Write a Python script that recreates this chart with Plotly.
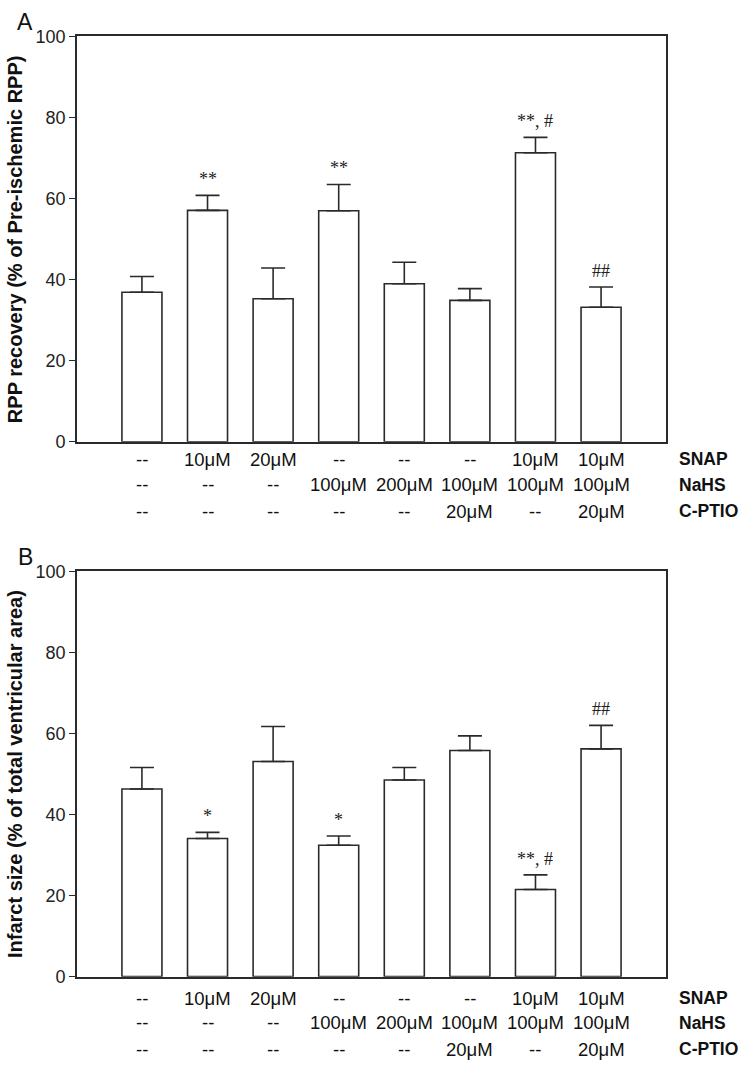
import plotly.graph_objects as go

# ---------------- data ----------------
groups = [0, 1, 2, 3, 4, 5, 6, 7]
snap = ["--", "10μM", "20μM", "--", "--", "--", "10μM", "10μM"]
nahs = ["--", "--", "--", "100μM", "200μM", "100μM", "100μM", "100μM"]
cptio = ["--", "--", "--", "--", "--", "20μM", "--", "20μM"]
row_names = ["SNAP", "NaHS", "C-PTIO"]

rpp_mean = [36.9, 57.1, 35.3, 57.0, 39.0, 34.9, 71.3, 33.2]
rpp_sem = [3.9, 3.7, 7.6, 6.5, 5.3, 2.9, 3.8, 5.0]
rpp_sig = ["", "**", "", "**", "", "", "**, #", "##"]

inf_mean = [46.3, 34.1, 53.1, 32.4, 48.5, 55.8, 21.5, 56.2]
inf_sem = [5.3, 1.5, 8.6, 2.3, 3.1, 3.6, 3.6, 5.8]
inf_sig = ["", "*", "", "*", "", "", "**, #", "##"]

y_titles = ["RPP recovery (% of Pre-ischemic RPP)",
            "Infarct size (% of total ventricular area)"]
panel_letters = ["A", "B"]
y_ticks = [0, 20, 40, 60, 80, 100]

# ---------------- layout geometry ----------------
W, H = 745, 1073
x0, x1 = 77 / W, 666 / W
domains = [[1 - 440 / H, 1 - 27 / H], [1 - 985 / H, 1 - 572 / H]]
row_offsets = [[18, 44, 71], [22, 47, 74]]  # px below plot bottom for each text row

fig = go.Figure()
annotations = []
line_col = "#2a2a2a"
sans = "Liberation Sans, Arial, sans-serif"
serif = "Liberation Serif, Times New Roman, serif"

panels = [(rpp_mean, rpp_sem, rpp_sig), (inf_mean, inf_sem, inf_sig)]
for i, (means, sems, sigs) in enumerate(panels):
    xa = "x" if i == 0 else "x2"
    ya = "y" if i == 0 else "y2"
    fig.add_trace(go.Bar(
        x=groups, y=means, width=0.61,
        marker=dict(color="white", line=dict(color=line_col, width=1.6)),
        error_y=dict(type="data", array=sems, arrayminus=[0] * len(sems),
                     symmetric=False, color=line_col, thickness=1.6, width=12),
        xaxis=xa, yaxis=ya, showlegend=False, hoverinfo="skip"))

    # significance marks
    for g, m, s, lab in zip(groups, means, sems, sigs):
        if lab:
            annotations.append(dict(
                x=g, y=m + s, xref=xa, yref=ya, text=lab, showarrow=False,
                yanchor="bottom", yshift=4, font=dict(family=serif, size=18, color="#222")))

    bottom_px = (1 - domains[i][0]) * H
    for r, row in enumerate([snap, nahs, cptio]):
        ypos = 1 - (bottom_px + row_offsets[i][r]) / H
        for g, lab in zip(groups, row):
            annotations.append(dict(
                x=g, y=ypos, xref=xa, yref="paper", text=lab, showarrow=False,
                yanchor="middle", xanchor="center",
                font=dict(family=sans, size=18.5, color="#111")))
        annotations.append(dict(
            x=677 / W, y=ypos, xref="paper", yref="paper",
            text="<b>" + row_names[r] + "</b>", showarrow=False,
            xanchor="left", yanchor="middle",
            font=dict(family=sans, size=17.5, color="#111")))

    # y title
    annotations.append(dict(
        x=15 / W, y=(domains[i][0] + domains[i][1]) / 2, xref="paper", yref="paper",
        text="<b>" + y_titles[i] + "</b>", textangle=-90, showarrow=False,
        xanchor="center", yanchor="middle",
        font=dict(family=sans, size=20, color="#111")))
    # panel letter
    top_px = (1 - domains[i][1]) * H
    annotations.append(dict(
        x=25 / W, y=1 - (top_px - 15) / H, xref="paper", yref="paper",
        text=panel_letters[i], showarrow=False, xanchor="center", yanchor="middle",
        font=dict(family=sans, size=23, color="#111")))

axis_common = dict(showline=True, linecolor=line_col, linewidth=1.6, mirror=True,
                   showgrid=False, zeroline=False)
yaxis_common = dict(range=[0, 100], tickvals=y_ticks, ticks="outside", ticklen=6,
                    tickwidth=1.4, tickcolor=line_col,
                    tickfont=dict(family=sans, size=18, color="#222"))

fig.update_layout(
    width=W, height=H, margin=dict(l=0, r=0, t=0, b=0),
    paper_bgcolor="white", plot_bgcolor="white",
    annotations=annotations,
    xaxis=dict(domain=[x0, x1], range=[-0.99, 7.99], showticklabels=False,
               ticks="", anchor="y", **axis_common),
    yaxis=dict(domain=domains[0], anchor="x", **yaxis_common, **axis_common),
    xaxis2=dict(domain=[x0, x1], range=[-0.99, 7.99], showticklabels=False,
                ticks="", anchor="y2", **axis_common),
    yaxis2=dict(domain=domains[1], anchor="x2", **yaxis_common, **axis_common),
)

fig.write_html("out.html", config={"displayModeBar": False},
               post_script="document.body.style.margin='0';document.body.style.overflow='hidden';")
